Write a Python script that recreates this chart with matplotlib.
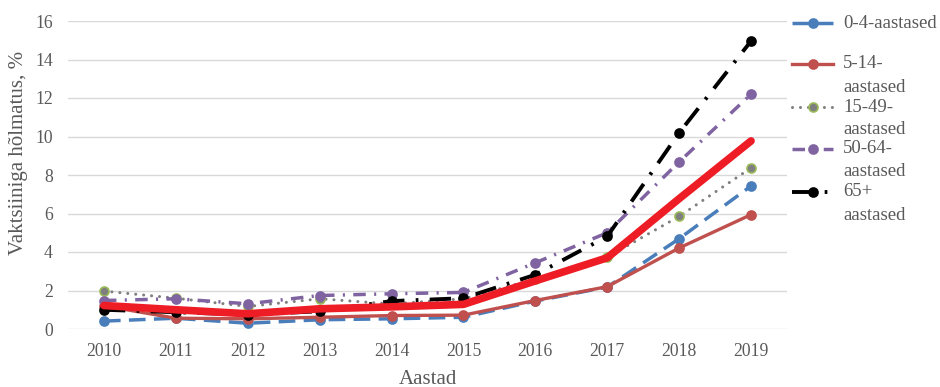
import numpy as np
import matplotlib
matplotlib.use("Agg")
import matplotlib.pyplot as plt
from matplotlib.lines import Line2D

# andmed (loetud pildilt)
years = ["2010", "2011", "2012", "2013", "2014", "2015", "2016", "2017", "2018", "2019"]
v_0_4 = [0.41, 0.56, 0.30, 0.48, 0.53, 0.61, 1.45, 2.18, 4.69, 7.43]
v_5_14 = [1.20, 0.56, 0.53, 0.61, 0.70, 0.72, 1.48, 2.20, 4.21, 5.94]
v_15_49 = [1.97, 1.60, 1.17, 1.57, 1.30, 1.57, 2.60, 3.73, 5.85, 8.37]
v_50_64 = [1.48, 1.57, 1.31, 1.74, 1.83, 1.90, 3.44, 5.00, 8.68, 12.20]
v_65 = [1.00, 0.87, 0.75, 0.92, 1.45, 1.60, 2.82, 4.81, 10.19, 14.96]
v_total = [1.22, 1.00, 0.79, 1.05, 1.15, 1.28, 2.50, 3.70, 6.77, 9.77]

labels = ["0-4-aastased", "5-14-\naastased", "15-49-\naastased",
          "50-64-\naastased", "65+\naastased"]

plt.rcParams["font.family"] = ["Liberation Serif", "DejaVu Serif"]
txt = "#595959"

# stiilid
styles = [
    dict(color="#4A7EBB", lw=2.5, dashes=(4.8, 2.4), mfc="#4A7EBB", mec="#4A7EBB"),
    dict(color="#C0504D", lw=2.4, ls="-", mfc="#C0504D", mec="#C0504D"),
    dict(color="#7F7F7F", lw=2.2, dashes=(0.01, 2.6), dash_capstyle="round",
         mfc="#7F7F7F", mec="#9BBB59"),
    dict(color="#8064A2", lw=2.5, dashes=(3.6, 2.4, 0.6, 2.4), mfc="#8064A2", mec="#8064A2"),
    dict(color="#000000", lw=2.8, dashes=(5.5, 2.9, 0.7, 2.9), mfc="#000000", mec="#000000"),
]
series = [v_0_4, v_5_14, v_15_49, v_50_64, v_65]

fig = plt.figure(figsize=(9.4, 3.87), dpi=100)
ax = fig.add_axes([68 / 940, 1 - 329 / 387, (787 - 68) / 940, (329 - 21) / 387])

x = np.arange(len(years))
for vals, st in zip(series, styles):
    ax.plot(x, vals, marker="o", ms=6.5, mew=1.2, **st)
ax.plot(x, v_total, color="#EE1C25", lw=5.5, solid_capstyle="round")

ax.set_xlim(-0.5, len(years) - 0.5)
ax.set_ylim(0, 16)
ax.set_yticks(np.arange(0, 17, 2))
ax.set_xticks(x)
ax.set_xticklabels(years)
ax.grid(axis="y", color="#D9D9D9", lw=1)
ax.set_axisbelow(True)
for s in ax.spines.values():
    s.set_visible(False)
ax.tick_params(axis="both", length=0, labelsize=12.7, colors=txt)
ax.tick_params(axis="x", pad=10)
ax.tick_params(axis="y", pad=11)

fig.text(427.5 / 940, 1 - 379 / 387, "Aastad", ha="center", va="center",
         fontsize=15, color=txt)
fig.text(19 / 940, 1 - 153 / 387, "Vaktsiiniga hõlmatus, %", rotation=90,
         ha="center", va="center", fontsize=15, color=txt)

# legend käsitsi
ys = [23, 64, 107, 149, 192]
for lab, st, yy in zip(labels, styles, ys):
    yf = 1 - yy / 387
    fig.add_artist(Line2D([792 / 940, 833 / 940], [yf, yf], transform=fig.transFigure,
                          **{k: v for k, v in st.items() if k not in ("mfc", "mec")}))
    fig.add_artist(Line2D([812.5 / 940], [yf], transform=fig.transFigure, ls="none",
                          marker="o", ms=6.5, mew=1.2, mfc=st["mfc"], mec=st["mec"]))
    for j, line in enumerate(lab.split("\n")):
        fig.text(843 / 940, 1 - (yy + 23 * j) / 387, line, ha="left", va="center",
                 fontsize=13.5, color=txt)

fig.savefig("out.png", dpi=100)
